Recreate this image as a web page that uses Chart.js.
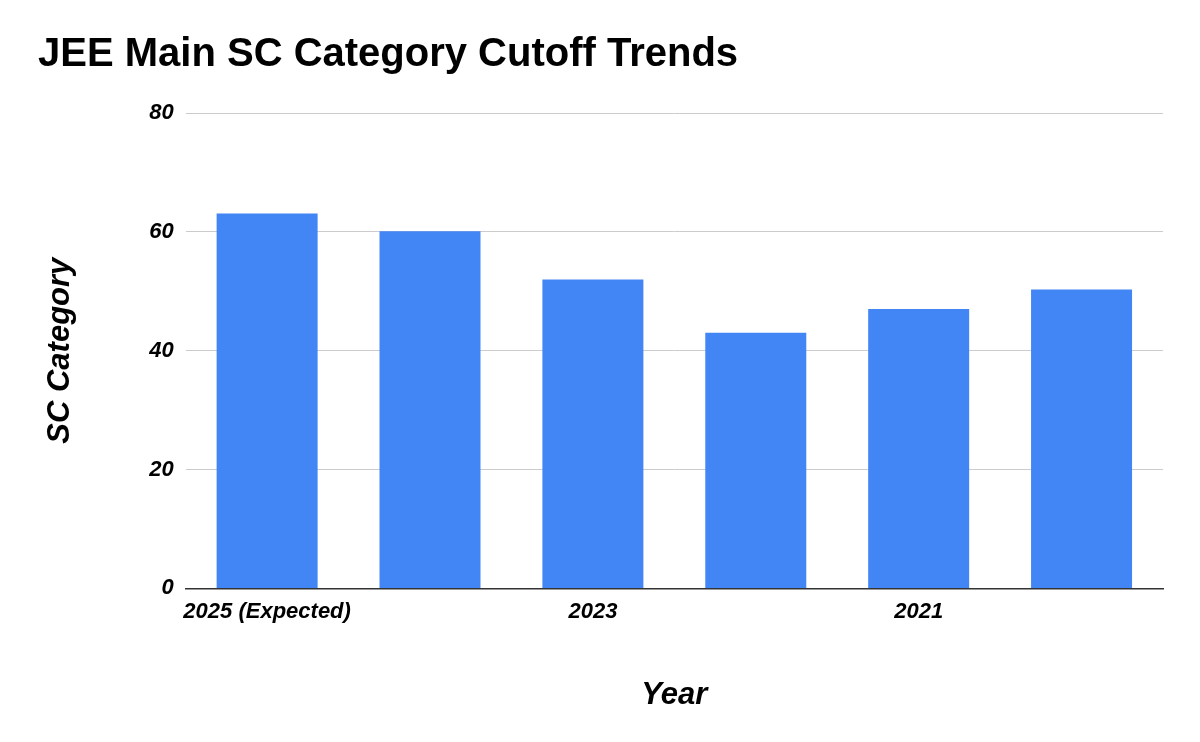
<!DOCTYPE html>
<html>
<head>
<meta charset="utf-8">
<script src="https://cdn.jsdelivr.net/npm/chart.js@4"></script>
<style>
  html, body { margin: 0; padding: 0; background: #fff; }
  #wrap { width: 1200px; height: 742px; }
</style>
</head>
<body>
<div id="wrap"><canvas id="chart"></canvas></div>
<script>
const years = ["2025 (Expected)", "2024", "2023", "2022", "2021", "2020"];
const scCutoff = [63.1, 60.1, 52, 43, 47, 50.3];
const yTicks = [0, 20, 40, 60, 80];

const font = "'Liberation Sans', Arial, sans-serif";

new Chart(document.getElementById("chart"), {
  type: "bar",
  data: {
    labels: years,
    datasets: [{
      label: "SC Category",
      data: scCutoff,
      backgroundColor: "#4285f4",
      barPercentage: 0.62,
      categoryPercentage: 1,
    }],
  },
  options: {
    responsive: true,
    maintainAspectRatio: false,
    animation: false,
    layout: { padding: { left: 38, right: 37, top: 31, bottom: 24 } },
    plugins: {
      legend: { display: false },
      tooltip: { enabled: false },
      title: {
        display: true,
        text: "JEE Main SC Category Cutoff Trends",
        align: "start",
        color: "#000",
        font: { family: font, size: 40, weight: "bold" },
        padding: { top: 0, bottom: 34 },
      },
    },
    scales: {
      x: {
        grid: { display: false, drawTicks: false },
        border: { color: "#333", width: 1.5 },
        ticks: {
          color: "#000",
          padding: 10,
          maxRotation: 0,
          font: { family: font, size: 22, weight: "bold", style: "italic" },
        },
        title: {
          display: true,
          text: "Year",
          color: "#000",
          padding: { top: 42 },
          font: { family: font, size: 31, weight: "bold", style: "italic" },
        },
      },
      y: {
        min: 0,
        max: 80,
        afterBuildTicks: (axis) => { axis.ticks = yTicks.map(v => ({ value: v })); },
        grid: { color: "#cccccc", drawTicks: false },
        border: { display: false },
        ticks: {
          color: "#000",
          padding: 12,
          font: { family: font, size: 22, weight: "bold", style: "italic" },
        },
        title: {
          display: true,
          text: "SC Category",
          color: "#000",
          padding: { bottom: 58 },
          font: { family: font, size: 31, weight: "bold", style: "italic" },
        },
      },
    },
  },
});
</script>
</body>
</html>
